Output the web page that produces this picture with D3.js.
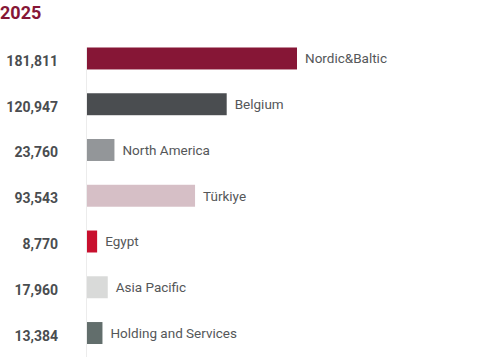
<!DOCTYPE html>
<html>
<head>
<meta charset="utf-8">
<script src="https://cdn.jsdelivr.net/npm/d3@7"></script>
<style>
  html, body { margin: 0; padding: 0; background: #fff; }
  svg { display: block; font-family: Roboto, 'Noto Sans', sans-serif; }
</style>
</head>
<body>
<div id="chart"></div>
<script>
// Chart data
const title = '2025';
const regions = ['Nordic&Baltic', 'Belgium', 'North America', 'Türkiye', 'Egypt', 'Asia Pacific', 'Holding and Services'];
const values = [181811, 120947, 23760, 93543, 8770, 17960, 13384];
const barColors = ['#861636', '#4a4d50', '#939699', '#d6bfc6', '#c8102e', '#d9dad9', '#626e6c'];

const width = 480, height = 357;
const axisX = 87;

const svg = d3.select('#chart').append('svg')
    .attr('width', width).attr('height', height);

const x = d3.scaleLinear()
    .domain([0, d3.max(values)])
    .range([axisX, axisX + 210]);

const y = d3.scaleBand()
    .domain(regions)
    .range([23.7, 367.8])
    .padding(0.52);

const rows = regions.map((r, i) => ({ region: r, value: values[i], color: barColors[i] }));

// title
svg.append('text')
    .attr('x', 0).attr('y', 18.5)
    .attr('fill', '#861636')
    .attr('font-size', 18).attr('font-weight', 700)
    .text(title);

// faint baseline
svg.append('line')
    .attr('x1', axisX - 0.5).attr('x2', axisX - 0.5)
    .attr('y1', y(regions[0])).attr('y2', height)
    .attr('stroke', '#ececec').attr('stroke-width', 1);

svg.selectAll('rect.bar')
    .data(rows)
    .join('rect')
    .attr('class', 'bar')
    .attr('x', x(0))
    .attr('y', d => y(d.region))
    .attr('width', d => x(d.value) - x(0))
    .attr('height', y.bandwidth())
    .attr('fill', d => d.color);

// value labels
svg.selectAll('text.val')
    .data(rows)
    .join('text')
    .attr('class', 'val')
    .attr('x', 58)
    .attr('y', d => y(d.region) + y.bandwidth() / 2 + 7.5)
    .attr('text-anchor', 'end')
    .attr('fill', '#4a4d50')
    .attr('font-size', 14).attr('font-weight', 700)
    .text(d => d3.format(',')(d.value));

// category labels
svg.selectAll('text.cat')
    .data(rows)
    .join('text')
    .attr('class', 'cat')
    .attr('x', d => x(d.value) + 8)
    .attr('y', d => y(d.region) + y.bandwidth() / 2 + 4.8)
    .attr('fill', '#555759')
    .attr('font-size', 13.5)
    .text(d => d.region);
</script>
</body>
</html>
